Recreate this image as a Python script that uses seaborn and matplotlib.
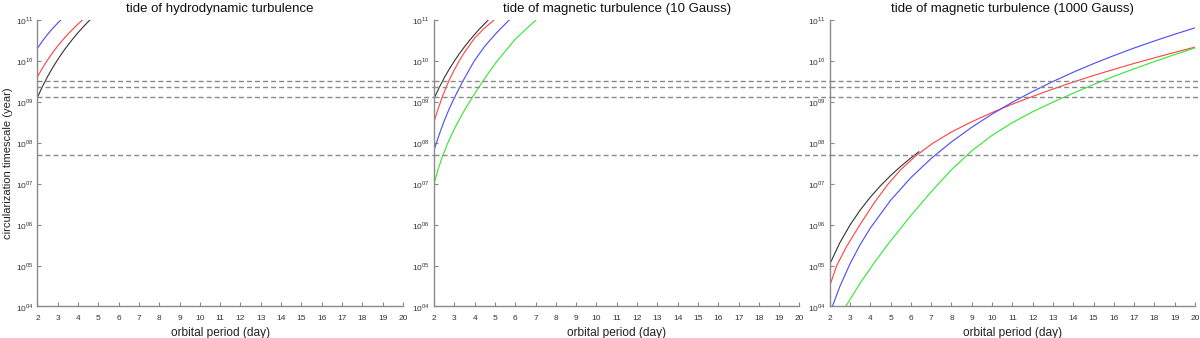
import numpy as np
import pandas as pd
import seaborn as sns
import matplotlib.pyplot as plt
from matplotlib.ticker import FixedLocator, FixedFormatter, NullLocator

# horizontal reference timescales (year)
ages = [5.0e7, 1.3e9, 2.3e9, 3.3e9]

titles = ["tide of hydrodynamic turbulence",
          "tide of magnetic turbulence (10 Gauss)",
          "tide of magnetic turbulence (1000 Gauss)"]

# panel 1: hydrodynamic turbulence
hydro_black_p = [2.0, 2.25, 2.5, 2.75, 3.0, 3.25, 3.5, 3.75, 4.0, 4.25, 4.58]
hydro_black_t = [1.29e9, 2.39e9, 4.16e9, 6.85e9, 1.08e10, 1.65e10, 2.43e10, 3.49e10, 4.9e10,
                 6.75e10, 1.0e11]
hydro_red_p = [2.0, 2.25, 2.5, 2.75, 3.0, 3.25, 3.5, 3.75, 4.0, 4.22]
hydro_red_t = [4.07e9, 6.76e9, 1.06e10, 1.6e10, 2.32e10, 3.27e10, 4.5e10, 6.04e10, 7.96e10, 1.0e11]
hydro_blue_p = [2.0, 2.25, 2.5, 2.75, 3.0, 3.15]
hydro_blue_t = [2.04e10, 3.08e10, 4.46e10, 6.22e10, 8.43e10, 1.0e11]

# panel 2: magnetic turbulence, 10 Gauss
mag10_black_p = [2.0, 2.25, 2.5, 2.75, 3.0, 3.25, 3.5, 3.75, 4.0, 4.25, 4.5, 4.67]
mag10_black_t = [1.2e9, 2.22e9, 3.85e9, 6.32e9, 9.93e9, 1.51e10, 2.22e10, 3.18e10, 4.45e10,
                 6.11e10, 8.22e10, 1.0e11]
mag10_red_p = [2.0, 2.2, 2.43, 2.74, 3.0, 3.25, 3.5, 4.0, 4.5, 4.96]
mag10_red_t = [3.24e8, 6.76e8, 1.42e9, 3.34e9, 6.08e9, 1.02e10, 1.62e10, 3.62e10, 6.44e10, 1.0e11]
mag10_blue_p = [2.0, 2.25, 2.5, 2.75, 3.03, 3.44, 3.97, 4.5, 5.1, 5.7]
mag10_blue_t = [6.61e7, 1.57e8, 3.41e8, 6.81e8, 1.34e9, 3.35e9, 9.8e9, 2.3e10, 4.99e10, 9.95e10]
mag10_green_p = [2.0, 2.2, 2.4, 2.67, 3.0, 3.4, 3.91, 4.4, 5.09, 6.0, 7.02]
mag10_green_t = [1.0e7, 2.24e7, 4.47e7, 9.73e7, 2.19e8, 5.16e8, 1.35e9, 3.18e9, 9.68e9, 3.4e10,
                 1.0e11]

# panel 3: magnetic turbulence, 1000 Gauss
mag1000_black_p = [2.0, 2.5, 3.0, 3.5, 4.0, 4.5, 5.0, 5.5, 6.0, 6.4]
mag1000_black_t = [1.07e5, 3.61e5, 9.77e5, 2.26e6, 4.68e6, 8.89e6, 1.58e7, 2.65e7, 4.27e7, 6.07e7]
mag1000_red_p = [2.0, 2.34, 2.8, 3.49, 4.2, 4.89, 5.5, 6.2, 7.05, 8.0, 9.0, 10.0, 11.0, 12.0,
                 13.0, 14.0, 15.0, 16.0, 17.0, 18.0, 19.0, 20.0]
mag1000_red_t = [3.16e4, 9.84e4, 2.75e5, 9.95e5, 3.45e6, 1.0e7, 2.2e7, 4.61e7, 9.53e7, 1.84e8,
                 3.27e8, 5.48e8, 8.79e8, 1.36e9, 2.06e9, 3.05e9, 4.41e9, 6.22e9, 8.69e9,
                 1.19e10, 1.62e10, 2.18e10]
mag1000_blue_p = [2.13, 2.5, 3.0, 3.5, 4.0, 5.0, 6.0, 7.0, 8.0, 9.0, 10.0, 11.0, 12.0, 13.0,
                  14.0, 15.0, 16.0, 17.0, 18.0, 19.0, 20.0]
mag1000_blue_t = [1.0e4, 3.07e4, 1.1e5, 3.24e5, 8.24e5, 3.93e6, 1.41e7, 4.14e7, 1.05e8, 2.4e8,
                  5.02e8, 9.8e8, 1.8e9, 3.15e9, 5.3e9, 8.6e9, 1.35e10, 2.07e10, 3.08e10,
                  4.5e10, 6.44e10]
mag1000_green_p = [2.79, 3.5, 4.25, 5.0, 6.0, 7.0, 8.0, 9.0, 10.0, 11.0, 12.0, 13.0, 14.0, 15.0,
                   16.0, 17.0, 18.0, 19.0, 20.0]
mag1000_green_t = [1.0e4, 3.7e4, 1.28e5, 4.0e5, 1.67e6, 6.35e6, 2.2e7, 6.36e7, 1.52e8, 3.11e8,
                   5.73e8, 9.84e8, 1.63e9, 2.65e9, 4.2e9, 6.43e9, 9.68e9, 1.43e10, 2.08e10]

colors = {"black": "#333333", "red": "#ff4040", "blue": "#4848ff", "green": "#30e830"}

panels = [
    [("black", hydro_black_p, hydro_black_t), ("red", hydro_red_p, hydro_red_t),
     ("blue", hydro_blue_p, hydro_blue_t)],
    [("black", mag10_black_p, mag10_black_t), ("red", mag10_red_p, mag10_red_t),
     ("blue", mag10_blue_p, mag10_blue_t), ("green", mag10_green_p, mag10_green_t)],
    [("black", mag1000_black_p, mag1000_black_t), ("red", mag1000_red_p, mag1000_red_t),
     ("blue", mag1000_blue_p, mag1000_blue_t), ("green", mag1000_green_p, mag1000_green_t)],
]

sns.set_style("ticks")
plt.rcParams['font.family'] = ['Liberation Sans', 'DejaVu Sans']
plt.rcParams['mathtext.fontset'] = 'custom'
plt.rcParams['mathtext.rm'] = 'Liberation Sans'

fig = plt.figure(figsize=(12, 3.38), dpi=100)
lefts = [0.0312, 0.3617, 0.6914]
decades = [10.0 ** k for k in range(4, 12)]
dec_labels = [r"$10^{%02d}$" % k for k in range(4, 12)]
grey = "#8a8a8a"

for i, (left, curves) in enumerate(zip(lefts, panels)):
    ax = fig.add_axes([left, 0.0932, 0.3045, 0.8476])
    ax.set_yscale("log")
    for name, p, t in curves:
        df = pd.DataFrame({"period": p, "timescale": t})
        sns.lineplot(data=df, x="period", y="timescale", color=colors[name], lw=0.8,
                     estimator=None, sort=False, ax=ax)
    # dashed age lines run on past the right edge of each panel
    for a in ages:
        ax.plot([2, 21.6], [a, a], color=grey, lw=1.0, ls=(0, (3.6, 2.2)), clip_on=False)
    ax.set_xlim(2, 20)
    ax.set_ylim(1e4, 1e11)
    ax.set_xticks(range(2, 21))
    ax.yaxis.set_major_locator(FixedLocator(decades))
    ax.yaxis.set_major_formatter(FixedFormatter(dec_labels))
    ax.yaxis.set_minor_locator(NullLocator())
    ax.tick_params(direction="in", length=3, width=0.8, color=grey, labelsize=6,
                   labelcolor="#333333")
    ax.tick_params(axis="x", pad=6)
    ax.tick_params(axis="y", pad=3)
    for s in ["top", "right"]:
        ax.spines[s].set_visible(False)
    for s in ["left", "bottom"]:
        ax.spines[s].set_color(grey)
        ax.spines[s].set_linewidth(1.0)
    ax.set_title(titles[i], fontsize=9.5, pad=6, color="#111111")
    ax.set_xlabel("orbital period (day)", fontsize=8.6, labelpad=4, color="#222222")
    if i == 0:
        ax.set_ylabel("circularization timescale (year)", fontsize=8.0, color="#222222")
        ax.yaxis.set_label_coords(-0.067, 0.5)
    else:
        ax.set_ylabel("")

fig.savefig("out.png", dpi=100)
